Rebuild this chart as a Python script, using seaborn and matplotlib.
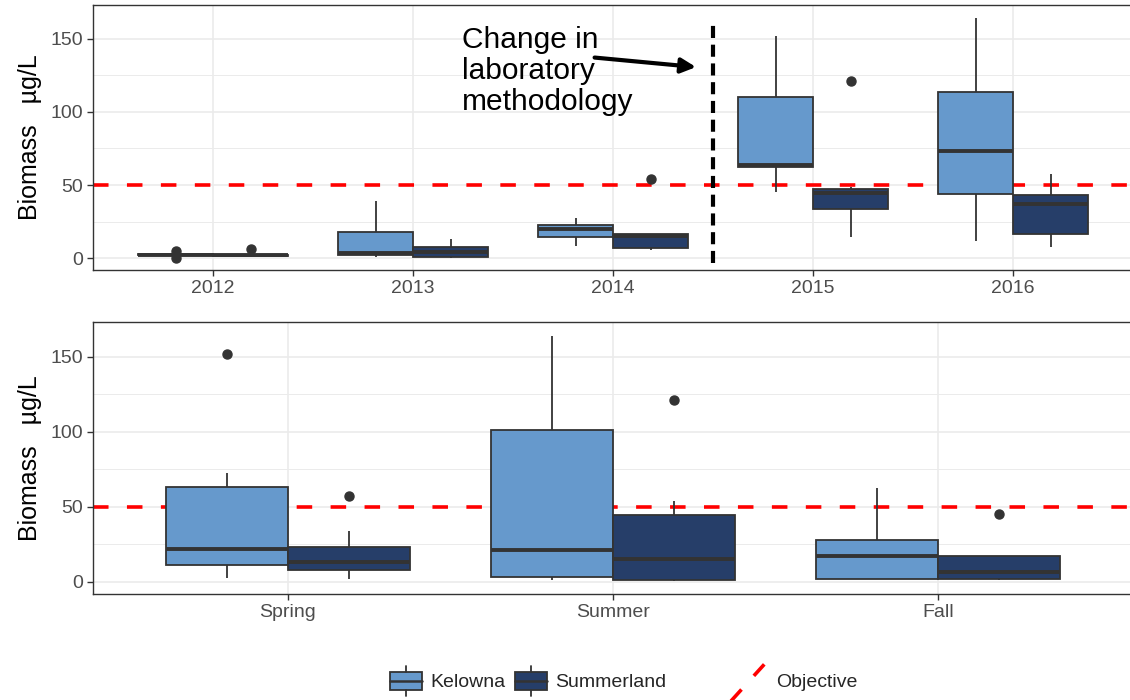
import matplotlib
matplotlib.use("Agg")
import matplotlib.pyplot as plt
import matplotlib.patches as mpatches
from matplotlib.lines import Line2D
from matplotlib.legend_handler import HandlerBase
import seaborn as sns
import pandas as pd

# ---------------- data ----------------
years = ["2012", "2013", "2014", "2015", "2016"]
seasons = ["Spring", "Summer", "Fall"]
sites = ["Kelowna", "Summerland"]

kelowna_by_year = [
    [0.3, 2.0, 2.1, 2.3, 2.4, 2.6, 2.8, 3.0, 4.8],
    [1.0, 1.5, 2.0, 2.8, 3.5, 9.0, 18.0, 30.0, 38.8],
    [8.7, 11.0, 14.7, 17.0, 20.0, 21.0, 22.8, 25.0, 27.5],
    [45.0, 55.0, 62.3, 63.0, 63.4, 85.0, 110.3, 130.0, 152.0],
    [12.0, 30.0, 44.0, 60.0, 73.2, 90.0, 113.6, 140.0, 164.0],
]
summerland_by_year = [
    [0.8, 1.2, 1.5, 1.8, 2.0, 2.2, 2.5, 2.9, 6.5],
    [0.5, 0.8, 1.0, 2.5, 4.0, 6.0, 8.0, 11.0, 13.5],
    [5.4, 6.0, 6.7, 11.0, 15.4, 16.0, 16.7, 16.7, 54.0],
    [14.7, 25.0, 33.7, 40.0, 44.4, 46.0, 47.0, 48.9, 121.0],
    [8.0, 12.0, 16.5, 28.0, 37.3, 40.0, 42.9, 50.0, 57.4],
]
kelowna_by_season = [
    [2.5, 6.0, 11.4, 16.0, 22.1, 40.0, 63.4, 72.3, 152.0],
    [1.0, 2.0, 3.6, 10.0, 21.0, 60.0, 101.4, 130.0, 164.0],
    [2.0, 2.0, 2.0, 10.0, 17.0, 22.0, 28.1, 45.0, 62.7],
]
summerland_by_season = [
    [2.0, 5.0, 8.3, 11.0, 13.2, 18.0, 23.2, 33.7, 57.4],
    [0.5, 1.0, 1.6, 8.0, 15.4, 30.0, 44.4, 53.8, 121.0],
    [1.5, 2.0, 2.0, 4.0, 6.9, 12.0, 17.0, 17.0, 45.0],
]
objective = 50
method_change_pos = 2.5          # between 2014 and 2015
method_change_span = [-3.3, 162.8]
y_ticks = [0, 50, 100, 150]
y_minor = [25, 75, 125]
annotation_text = "Change in\nlaboratory\nmethodology"
y_title = "Biomass   µg/L"

# ---------------- styling ----------------
sns.set_theme(style="ticks")
plt.rcParams["font.family"] = ["Liberation Sans", "DejaVu Sans"]

site_colors = {"Kelowna": "#6699CC", "Summerland": "#263E69"}
edge = "#333333"
grid_c = "#EBEBEB"


def long_frame(cats, kel, summ, col):
    rows = []
    for c, kv, sv in zip(cats, kel, summ):
        rows += [{col: c, "Site": "Kelowna", "Biomass": v} for v in kv]
        rows += [{col: c, "Site": "Summerland", "Biomass": v} for v in sv]
    return pd.DataFrame(rows)


df_year = long_frame(years, kelowna_by_year, summerland_by_year, "Year")
df_season = long_frame(seasons, kelowna_by_season, summerland_by_season, "Season")

fig = plt.figure(figsize=(11.3, 7), dpi=100)
W, H = 1130, 700
ax1 = fig.add_axes([93 / W, 1 - 270 / H, 1040 / W, 265 / H])
ax2 = fig.add_axes([93 / W, 1 - 594 / H, 1040 / W, 272 / H])

box_kw = dict(
    hue="Site", hue_order=sites, palette=site_colors, width=0.75, gap=0,
    saturation=1, linecolor=edge, linewidth=1.3, whis=1.5, showcaps=False,
    fliersize=6.5, legend=False,
    medianprops=dict(linewidth=2.8, color=edge),
    flierprops=dict(marker="o", markerfacecolor=edge, markeredgecolor=edge),
)

sns.boxplot(data=df_year, x="Year", y="Biomass", order=years, ax=ax1, **box_kw)
sns.boxplot(data=df_season, x="Season", y="Biomass", order=seasons, ax=ax2, **box_kw)

for ax, n in ((ax1, len(years)), (ax2, len(seasons))):
    ax.axhline(objective, color="red", lw=2.6, ls=(0, (4.3, 5.1)), zorder=1)
    ax.set_xlim(-0.6, n - 1 + 0.6)
    ax.set_ylim(-8, 173)
    ax.set_yticks(y_ticks)
    ax.set_yticks(y_minor, minor=True)
    ax.set_axisbelow(True)
    ax.grid(which="major", color=grid_c, lw=1.2)
    ax.grid(which="minor", axis="y", color=grid_c, lw=0.7)
    ax.tick_params(which="major", length=4, width=1, color=edge,
                   labelsize=14, labelcolor="#4D4D4D", pad=3)
    ax.tick_params(which="minor", length=0)
    for s in ax.spines.values():
        s.set_color(edge)
        s.set_linewidth(1.0)
        s.set_visible(True)
    ax.set_xlabel("")
    ax.set_ylabel(y_title, fontsize=18, color="black", labelpad=6)

# method-change marker and annotation
ax1.plot([method_change_pos, method_change_pos], method_change_span,
         color="black", lw=3, ls=(0, (2.9, 1.6)), zorder=4)
ax1.text(1.245, 158.5, annotation_text, fontsize=21.5, ha="left", va="top",
         linespacing=1.13, color="black")
ax1.annotate("", xy=(2.415, 130.6), xytext=(1.908, 137.1),
             arrowprops=dict(arrowstyle="-|>", lw=3, color="black",
                             mutation_scale=22, shrinkA=0, shrinkB=0))


# ---------------- legend ----------------
class BoxKeyHandler(HandlerBase):
    def create_artists(self, legend, orig_handle, xdescent, ydescent,
                       width, height, fontsize, trans):
        x0, y0 = -xdescent, -ydescent
        fc = orig_handle.get_facecolor()
        rect = mpatches.Rectangle((x0, y0 + 0.15 * height), width, 0.7 * height,
                                  facecolor=fc, edgecolor=edge, lw=1.3,
                                  transform=trans)
        xm = x0 + width / 2
        med = Line2D([x0, x0 + width], [y0 + 0.5 * height] * 2, color=edge,
                     lw=1.8, transform=trans)
        w1 = Line2D([xm, xm], [y0 - 0.1 * height, y0 + 0.15 * height],
                    color=edge, lw=1.3, transform=trans)
        w2 = Line2D([xm, xm], [y0 + 0.85 * height, y0 + 1.1 * height],
                    color=edge, lw=1.3, transform=trans)
        return [rect, med, w1, w2]


class DiagLineHandler(HandlerBase):
    def create_artists(self, legend, orig_handle, xdescent, ydescent,
                       width, height, fontsize, trans):
        x0, y0 = -xdescent, -ydescent
        ln = Line2D([x0, x0 + width], [y0 - 0.35 * height, y0 + 1.15 * height],
                    color="red", lw=2.6, ls=(0, (4.3, 5.1)), transform=trans)
        return [ln]


box_handles = [mpatches.Patch(facecolor=site_colors[s], label=s) for s in sites]
leg1 = fig.legend(handles=box_handles, labels=sites, loc="center",
                  bbox_to_anchor=(528 / W, 1 - 681 / H), ncol=2, frameon=False,
                  fontsize=14, handlelength=1.65, handleheight=1.6,
                  handletextpad=0.4, columnspacing=0.5,
                  handler_map={mpatches.Patch: BoxKeyHandler()})
obj_handle = Line2D([], [], color="red")
leg2 = fig.legend(handles=[obj_handle], labels=["Objective"], loc="center",
                  bbox_to_anchor=(792 / W, 1 - 681 / H), frameon=False,
                  fontsize=14, handlelength=2.1, handleheight=2.0,
                  handletextpad=0.5,
                  handler_map={obj_handle: DiagLineHandler()})

fig.savefig("out.png", dpi=100)
